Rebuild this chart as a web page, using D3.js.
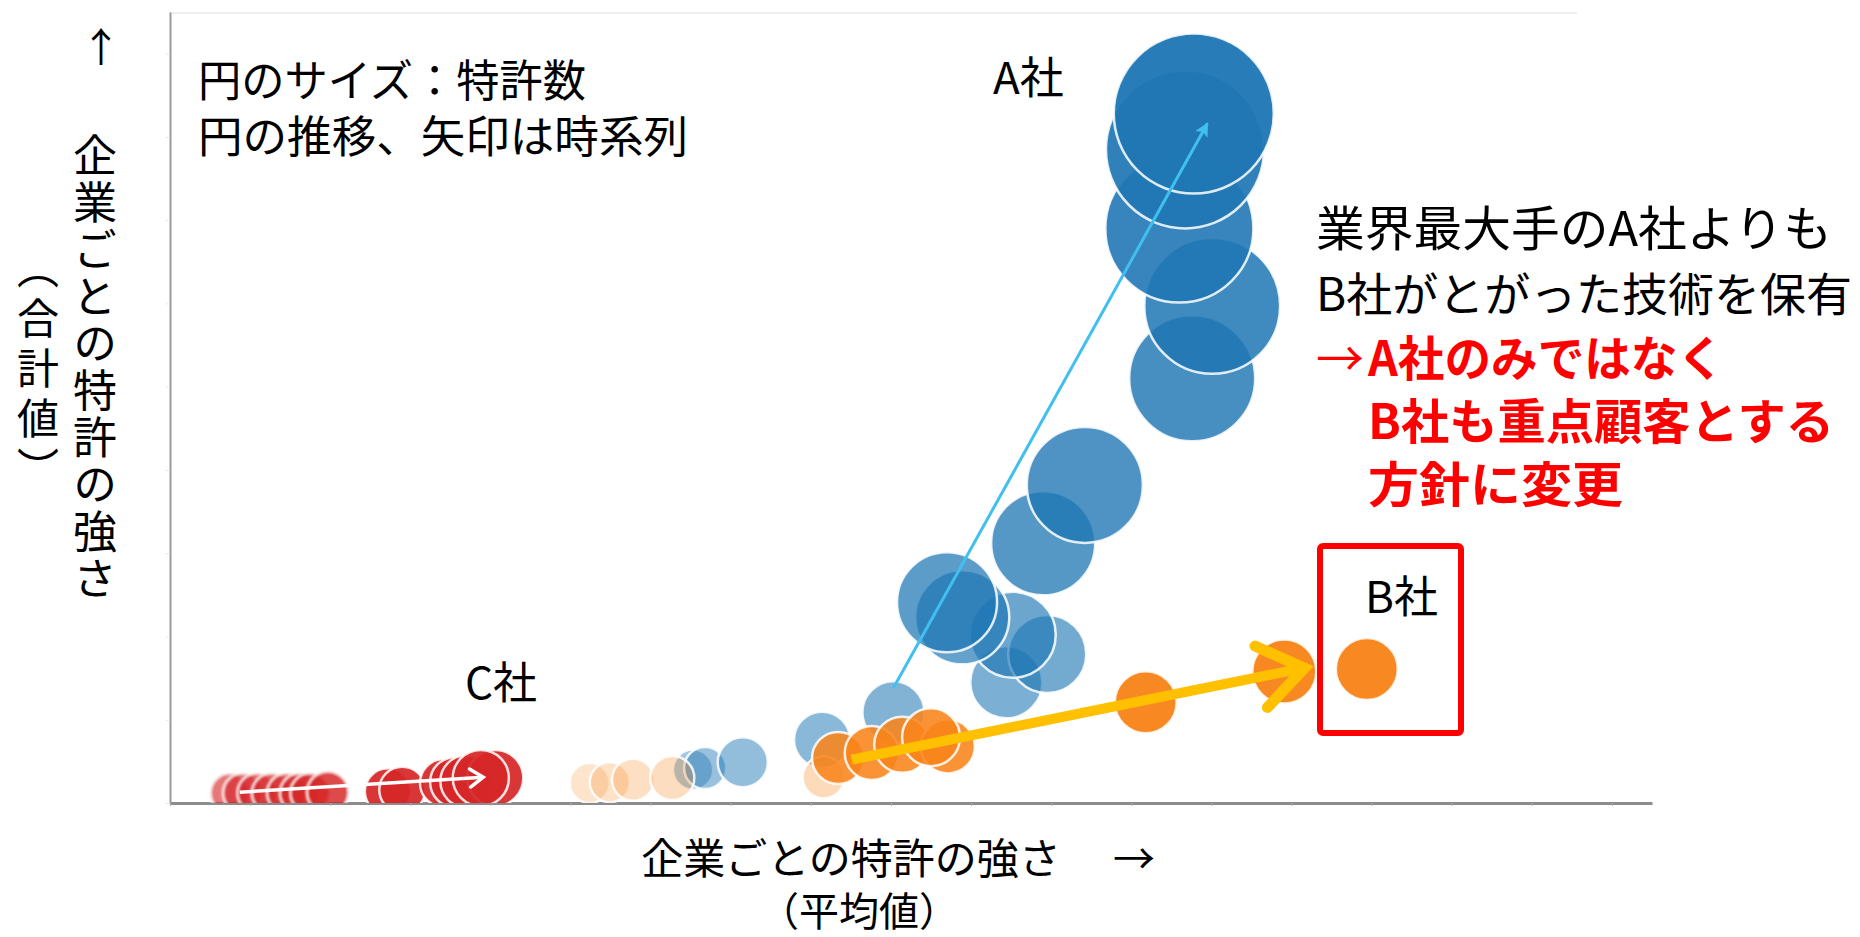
<!DOCTYPE html>
<html lang="ja">
<head>
<meta charset="utf-8">
<script src="https://cdn.jsdelivr.net/npm/d3@7/dist/d3.min.js"></script>
<style>
  html, body { margin: 0; padding: 0; background: #fff; }
  svg text { font-family: "Noto Sans CJK JP", "Noto Sans", sans-serif; fill: #000; }
</style>
</head>
<body>
<svg id="chart" width="1860" height="937"></svg>
<script>
// bubble trails per company: x = 平均値, y = 合計値, n = 特許数 (oldest first)
var aX = [6.53, 6.68, 7.15, 8.14, 9.03, 10.44, 10.95, 10.52, 9.89, 9.70, 10.90, 11.42, 12.76, 13.01, 12.60, 12.67, 12.78];
var aY = [0.40, 0.42, 0.49, 0.76, 1.09, 1.45, 1.79, 2.02, 2.23, 2.41, 3.12, 3.82, 5.10, 5.97, 6.90, 7.85, 8.28];
var aN = [6.3, 6.9, 9.8, 12.3, 15.0, 20.3, 23.8, 28.9, 34.5, 39.1, 42.3, 52.6, 62, 72, 85.6, 97.5, 100];

var bX = [5.24, 5.49, 5.78, 6.27, 8.16, 8.34, 8.76, 9.14, 9.71, 9.50, 12.18, 13.91, 14.94];
var bY = [0.24, 0.25, 0.28, 0.30, 0.31, 0.54, 0.60, 0.70, 0.68, 0.79, 1.21, 1.58, 1.61];
var bN = [6.25, 6.25, 6.9, 7.6, 6.9, 10.6, 11.4, 12.25, 11.4, 13.1, 15.0, 16.0, 15.0];

var cX = [0.75, 0.91, 1.09, 1.27, 1.46, 1.62, 1.75, 1.97, 2.72, 2.90, 3.42, 3.56, 3.70, 4.06, 3.88];
var cY = [0.12, 0.12, 0.12, 0.12, 0.12, 0.12, 0.12, 0.13, 0.14, 0.16, 0.24, 0.25, 0.26, 0.30, 0.30];
var cN = [6.25, 6.25, 6.25, 6.25, 6.25, 6.25, 6.25, 6.9, 8.3, 8.3, 9.0, 9.8, 10.6, 12.3, 12.3];

// time-series arrows [x0, y0, x1, y1]
var arrowA = [9.03, 1.38, 12.95, 8.16];
var arrowB = [8.51, 0.52, 14.16, 1.62];
var arrowC = [0.87, 0.13, 3.91, 0.31];

// texts
var noteLines = ["円のサイズ：特許数", "円の推移、矢印は時系列"];
var commentLines = ["業界最大手のA社よりも", "B社がとがった技術を保有"];
var actionLines = ["A社のみではなく", "B社も重点顧客とする", "方針に変更"];
var yTitle = "企業ごとの特許の強さ", ySub = "︵合計値︶";
var xTitle = "企業ごとの特許の強さ", xSub = "（平均値）";

var plot = {left: 170, right: 1652, top: 12, bottom: 803};

var x = d3.scaleLinear().domain([0, 18.5]).range([plot.left, plot.right]);
var y = d3.scaleLinear().domain([0, 9.5]).range([plot.bottom, plot.top]);
var r = d3.scaleSqrt().domain([0, 100]).range([0, 80]);

var svg = d3.select("#chart");
var defs = svg.append("defs");

defs.append("clipPath").attr("id", "plotclip")
  .append("rect")
  .attr("x", plot.left).attr("y", plot.top)
  .attr("width", plot.right - plot.left).attr("height", plot.bottom - plot.top);

defs.append("filter").attr("id", "soft")
  .attr("x", "-20%").attr("y", "-20%").attr("width", "140%").attr("height", "140%")
  .append("feGaussianBlur").attr("stdDeviation", 0.8);

defs.append("marker").attr("id", "headA")
  .attr("viewBox", "0 0 10 10").attr("refX", 9).attr("refY", 5)
  .attr("markerUnits", "userSpaceOnUse")
  .attr("markerWidth", 18).attr("markerHeight", 14)
  .attr("orient", "auto")
  .append("path").attr("d", "M0,0 L10,5 L0,10 L2.5,5 z").attr("fill", "#41c0f0");

// faint frame line on top
svg.append("line")
  .attr("x1", plot.left).attr("x2", 1577)
  .attr("y1", plot.top + 1).attr("y2", plot.top + 1)
  .style("stroke", "#efefef").style("stroke-width", 2);

// axes (no labels, only short ticks)
var gx = svg.append("g")
  .attr("transform", "translate(0," + plot.bottom + ")")
  .call(d3.axisBottom(x).ticks(18).tickSize(3).tickSizeOuter(0).tickFormat(""));
gx.select(".domain").style("stroke", "#8c8c8c").style("stroke-width", 3);
gx.selectAll(".tick line").style("stroke", "#b0b0b0");

var gy = svg.append("g")
  .attr("transform", "translate(" + plot.left + ",0)")
  .call(d3.axisLeft(y).ticks(9).tickSize(4).tickSizeOuter(0).tickFormat(""));
gy.select(".domain").style("stroke", "#9a9a9a").style("stroke-width", 2);
gy.selectAll(".tick line").style("stroke", "#e6e6e6");

function rows(xs, ys, ns) {
  return xs.map(function(v, i) { return {x: v, y: ys[i], n: ns[i], i: i}; });
}

var companies = [
  {key: "A", data: rows(aX, aY, aN), color: "#1f77b4",
   opacity: d3.scaleLinear().domain([0, aX.length - 1]).range([0.42, 0.96]),
   blur: function() { return false; }},
  {key: "B", data: rows(bX, bY, bN), color: "#f8841a",
   opacity: function(i) { return i < 5 ? 0.22 + i * 0.02 : (i < 10 ? 0.88 : 0.97); },
   blur: function() { return false; }},
  {key: "C", data: rows(cX, cY, cN), color: "#d62728",
   opacity: function(i) { return i < 8 ? 0.62 + i * 0.03 : 0.93; },
   blur: function(i) { return i < 8; }}
];

var bubbles = svg.append("g").attr("clip-path", "url(#plotclip)");

companies.forEach(function(c) {
  bubbles.append("g").attr("class", "company-" + c.key)
    .selectAll("circle")
    .data(c.data)
    .enter().append("circle")
      .attr("cx", function(d) { return x(d.x); })
      .attr("cy", function(d) { return y(d.y); })
      .attr("r", function(d) { return r(d.n); })
      .attr("filter", function(d) { return c.blur(d.i) ? "url(#soft)" : null; })
      .style("fill", c.color)
      .style("fill-opacity", function(d) { return c.opacity(d.i); })
      .style("stroke", "#fff")
      .style("stroke-opacity", 0.85)
      .style("stroke-width", 2.5);
});

// chevron head for thick arrows
function chevron(a, len, spread) {
  var x0 = x(a[0]), y0 = y(a[1]), x1 = x(a[2]), y1 = y(a[3]);
  var ang = Math.atan2(y1 - y0, x1 - x0);
  var p1 = [x1 - len * Math.cos(ang - spread), y1 - len * Math.sin(ang - spread)];
  var p2 = [x1 - len * Math.cos(ang + spread), y1 - len * Math.sin(ang + spread)];
  return "M" + p1 + "L" + [x1, y1] + "L" + p2;
}

// A: thin sky-blue arrow
svg.append("line")
  .attr("x1", x(arrowA[0])).attr("y1", y(arrowA[1]))
  .attr("x2", x(arrowA[2])).attr("y2", y(arrowA[3]))
  .attr("marker-end", "url(#headA)")
  .style("stroke", "#41c0f0").style("stroke-width", 3);

// B: thick yellow arrow
svg.append("line")
  .attr("x1", x(arrowB[0])).attr("y1", y(arrowB[1]))
  .attr("x2", x(arrowB[2]) - 6).attr("y2", y(arrowB[3]) + 1)
  .style("stroke", "#ffc000").style("stroke-width", 10);
svg.append("path")
  .attr("d", chevron(arrowB, 54, 0.62))
  .style("fill", "none").style("stroke", "#ffc000")
  .style("stroke-width", 11).style("stroke-linejoin", "miter").style("stroke-linecap", "round");

// C: white arrow over the red trail
svg.append("line")
  .attr("x1", x(arrowC[0])).attr("y1", y(arrowC[1]))
  .attr("x2", x(arrowC[2])).attr("y2", y(arrowC[3]))
  .style("stroke", "#fff").style("stroke-width", 3.5);
svg.append("path")
  .attr("d", chevron(arrowC, 16, 0.6))
  .style("fill", "none").style("stroke", "#fff")
  .style("stroke-width", 3.5).style("stroke-linecap", "round");

// B社 highlight box
svg.append("rect")
  .attr("x", 1320).attr("y", 546).attr("width", 141).attr("height", 187)
  .attr("rx", 3)
  .style("fill", "none").style("stroke", "#ff0000").style("stroke-width", 6);

// company labels
svg.append("text").attr("x", 993).attr("y", 94).style("font-size", "44px").text("A社");
svg.append("text").attr("x", 1365).attr("y", 613).style("font-size", "44px").text("B社");
svg.append("text").attr("x", 465).attr("y", 699).style("font-size", "44px").text("C社");

// legend note (one text, one tspan per line)
var noteWidth = [388, 490];
svg.append("text")
  .style("font-size", "44px")
  .selectAll("tspan")
  .data(noteLines)
  .enter().append("tspan")
    .attr("x", 198)
    .attr("y", function(d, i) { return 97 + i * 56; })
    .attr("textLength", function(d, i) { return noteWidth[i]; })
    .attr("lengthAdjust", "spacingAndGlyphs")
    .text(function(d) { return d; });

// comment block: black statement, red conclusion
var commentSize = [48, 46];
var commentWidth = [516, 536];
var actionWidth = [356, 466, 255];
var block = svg.append("text").style("font-size", "48px");

block.selectAll("tspan.c")
  .data(commentLines)
  .enter().append("tspan").attr("class", "c")
    .attr("x", 1316)
    .attr("y", function(d, i) { return 246 + i * 65; })
    .attr("textLength", function(d, i) { return commentWidth[i]; })
    .attr("lengthAdjust", "spacingAndGlyphs")
    .style("font-size", function(d, i) { return commentSize[i] + "px"; })
    .text(function(d) { return d; });

block.append("tspan")
  .attr("x", 1316).attr("y", 376)
  .style("fill", "#ff0000")
  .text("→");

block.selectAll("tspan.a")
  .data(actionLines)
  .enter().append("tspan").attr("class", "a")
    .attr("x", 1368)
    .attr("y", function(d, i) { return 376 + i * 63; })
    .attr("textLength", function(d, i) { return actionWidth[i]; })
    .attr("lengthAdjust", "spacingAndGlyphs")
    .style("font-weight", 700)
    .style("fill", "#ff0000")
    .text(function(d) { return d; });

// y axis title (vertical)
svg.append("text")
  .attr("x", 101).attr("y", 62)
  .attr("text-anchor", "middle")
  .style("font-size", "40px")
  .text("↑");
svg.append("text")
  .attr("x", 95).attr("y", 368)
  .attr("text-anchor", "middle")
  .style("writing-mode", "vertical-rl")
  .style("font-size", "44px")
  .style("letter-spacing", "3px")
  .text(yTitle);
svg.append("text")
  .attr("x", 38).attr("y", 372)
  .attr("text-anchor", "middle")
  .style("writing-mode", "vertical-rl")
  .style("font-size", "42px")
  .style("letter-spacing", "8px")
  .text(ySub);

// x axis title
var xt = svg.append("text").attr("text-anchor", "middle").style("font-size", "42px");
xt.append("tspan").attr("x", 851).attr("y", 874).text(xTitle);
xt.append("tspan").attr("x", 1134).attr("y", 874).text("→");
xt.append("tspan").attr("x", 859).attr("y", 926).style("font-size", "40px").text(xSub);
</script>
</body>
</html>
